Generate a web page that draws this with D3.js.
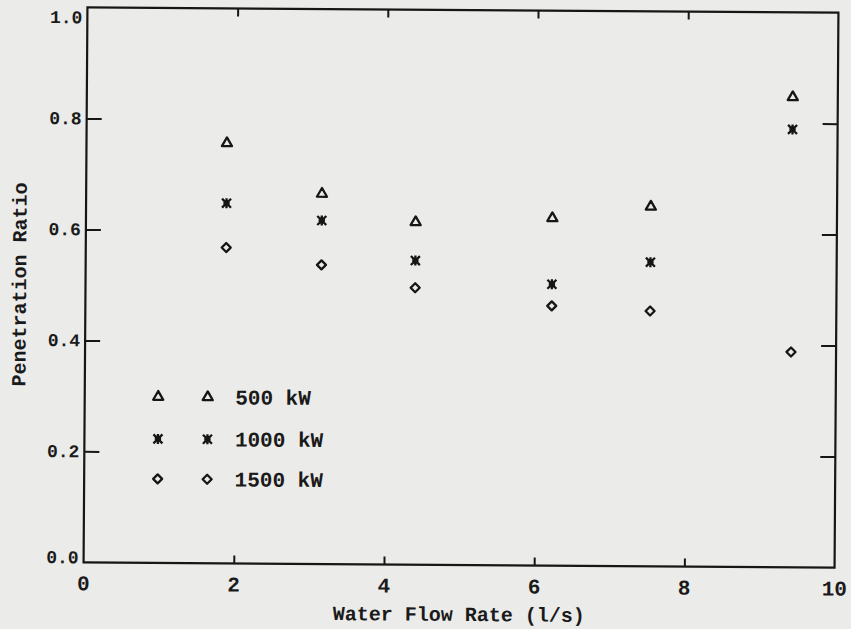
<!DOCTYPE html>
<html>
<head>
<meta charset="utf-8">
<script src="https://cdn.jsdelivr.net/npm/d3@7"></script>
<style>
  html, body { margin: 0; padding: 0; background: #ebebe9; }
  svg { display: block; }
  text { fill: #1a1a1a; font-family: "Liberation Mono", "Courier New", monospace; font-weight: bold; }
</style>
</head>
<body>
<svg id="chart" width="851" height="629"></svg>
<script>
// Water flow rate (l/s) at each test condition
const flowRates = [1.87, 3.14, 4.39, 6.21, 7.52, 9.40];
// Penetration ratio for each fire size
const ratio500  = [0.757, 0.667, 0.617, 0.626, 0.648, 0.847];
const ratio1000 = [0.649, 0.619, 0.548, 0.507, 0.548, 0.789];
const ratio1500 = [0.569, 0.539, 0.499, 0.468, 0.460, 0.388];
const seriesNames = ["500 kW", "1000 kW", "1500 kW"];
const xTicks = [0, 2, 4, 6, 8, 10];
const yTicks = [0.0, 0.2, 0.4, 0.6, 0.8, 1.0];

const svg = d3.select("#chart");
const W = 851, H = 629;
const margin = { left: 85.5, right: W - 836.5, top: 10, bottom: H - 565 };
const x0 = margin.left, x1 = W - margin.right, y0 = H - margin.bottom, y1 = margin.top;

const x = d3.scaleLinear().domain([0, 10]).range([x0, x1]);
const y = d3.scaleLinear().domain([0, 1]).range([y0, y1]);

const ink = "#161616";
// the whole sheet sits slightly askew
const cx = (x0 + x1) / 2, cy = (y0 + y1) / 2;
const g = svg.append("g").attr("transform", `rotate(0.4, ${cx}, ${cy})`);

// frame
g.append("rect")
  .attr("x", x0).attr("y", y1)
  .attr("width", x1 - x0).attr("height", y0 - y1)
  .attr("fill", "none").attr("stroke", ink).attr("stroke-width", 2.2);

// inner ticks on all four sides
const innerY = yTicks.filter(v => v > 0 && v < 1);
const innerX = xTicks.filter(v => v > 0 && v < 10);
g.append("g").attr("transform", `translate(${x0},0)`)
  .call(d3.axisRight(y).tickValues(innerY).tickSize(15).tickFormat(""))
  .call(a => a.select(".domain").remove());
g.append("g").attr("transform", `translate(${x1},0)`)
  .call(d3.axisLeft(y).tickValues(innerY).tickSize(15).tickFormat(""))
  .call(a => a.select(".domain").remove());
g.append("g").attr("transform", `translate(0,${y0})`)
  .call(d3.axisTop(x).tickValues(innerX).tickSize(8).tickFormat(""))
  .call(a => a.select(".domain").remove());
g.append("g").attr("transform", `translate(0,${y1})`)
  .call(d3.axisBottom(x).tickValues(innerX).tickSize(8).tickFormat(""))
  .call(a => a.select(".domain").remove());
g.selectAll(".tick line").attr("stroke", ink).attr("stroke-width", 2);

// y tick labels (end labels nudged inside the frame)
const yLabelShift = v => (v === 1 ? 10 : v === 0 ? -5 : 0);
g.append("g").selectAll("text").data(yTicks).join("text")
  .attr("x", x0 - 5)
  .attr("y", d => y(d) + 6 + yLabelShift(d))
  .attr("text-anchor", "end")
  .attr("font-size", 18)
  .text(d => d.toFixed(1));

// x tick labels
g.append("g").selectAll("text").data(xTicks).join("text")
  .attr("x", d => x(d))
  .attr("y", y0 + 28)
  .attr("text-anchor", "middle")
  .attr("font-size", 21)
  .text(d => d);

// axis titles
g.append("text")
  .attr("x", cx).attr("y", y0 + 56)
  .attr("text-anchor", "middle")
  .attr("font-size", 20)
  .text("Water Flow Rate (l/s)");
g.append("text")
  .attr("transform", `translate(26,${cy}) rotate(-90)`)
  .attr("text-anchor", "middle")
  .attr("font-size", 20)
  .text("Penetration Ratio");

// marker shapes: open triangle, barred cross, open diamond
const markerPaths = [
  d3.symbol(d3.symbolTriangle, 44)(),
  "M-4.5,-4.5L4.5,4.5M4.5,-4.5L-4.5,4.5M0,-5V5M-2,-2H2V2H-2Z",
  "M0,-4.5L4.5,0L0,4.5L-4.5,0Z"
];
const markerFill = ["none", ink, "none"];

const series = [ratio500, ratio1000, ratio1500];
series.forEach((vals, i) => {
  g.append("g").selectAll("path")
    .data(vals.map((v, j) => [flowRates[j], v]))
    .join("path")
    .attr("d", markerPaths[i])
    .attr("transform", d => `translate(${x(d[0])},${y(d[1])})`)
    .attr("fill", markerFill[i]).attr("stroke", ink).attr("stroke-width", 2.3)
    .attr("stroke-linejoin", "round");
});

// legend
const legend = g.append("g");
const rowY = [399, 441, 481];
seriesNames.forEach((name, i) => {
  [159, 208.5].forEach(px => {
    legend.append("path")
      .attr("d", markerPaths[i])
      .attr("transform", `translate(${px},${rowY[i]})`)
      .attr("fill", markerFill[i]).attr("stroke", ink).attr("stroke-width", 2.3)
      .attr("stroke-linejoin", "round");
  });
  legend.append("text")
    .attr("x", 236).attr("y", rowY[i] + 7)
    .attr("font-size", 21)
    .text(name);
});
</script>
</body>
</html>
